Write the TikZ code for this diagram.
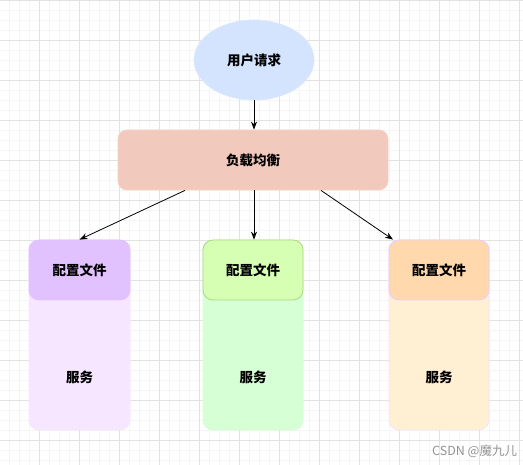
\documentclass[tikz,border=0pt]{standalone}
\usepackage{fontspec}
\setmainfont{Noto Sans CJK SC}
\usetikzlibrary{arrows.meta,shapes.geometric}
\definecolor{gridminor}{HTML}{F5F5F5}
\definecolor{gridmajor}{HTML}{E2E2E2}
\definecolor{ellfill}{HTML}{D4E4FF}
\definecolor{elldraw}{HTML}{DCE9FC}
\definecolor{lbfill}{HTML}{F2C9BD}
\definecolor{lbdraw}{HTML}{F6D3C9}
\definecolor{hAfill}{HTML}{E1C2FF}
\definecolor{bAfill}{HTML}{F7E6FF}
\definecolor{hBfill}{HTML}{D7FFB3}
\definecolor{hBdraw}{HTML}{A9D883}
\definecolor{bBfill}{HTML}{D6FFD6}
\definecolor{hCfill}{HTML}{FFD9AD}
\definecolor{hCdraw}{HTML}{E8CBFF}
\definecolor{bCfill}{HTML}{FFF0D4}
\definecolor{bCdraw}{HTML}{F7E2FF}
\begin{document}
\begin{tikzpicture}[x=1pt,y=-1pt,
  lbl/.style={font=\bfseries\fontsize{13.5}{15}\selectfont,text=black},
  body/.style={rounded corners=10pt,line width=0.8pt},
  head/.style={rounded corners=10pt,line width=0.8pt},
  conn/.style={line width=0.8pt,-{Stealth[length=8pt,width=6pt]}}]
\useasboundingbox (0,0) rectangle (523,465);
\fill[white] (0,0) rectangle (523,465);
% grid
\foreach \i in {0,...,52} {\draw[gridminor,line width=0.6pt] (\i*10-0.5,0) -- (\i*10-0.5,465);}
\foreach \j in {0,...,46} {\draw[gridminor,line width=0.6pt] (0,\j*10+0.5) -- (523,\j*10+0.5);}
\foreach \i in {0,...,13} {\draw[gridmajor,line width=0.8pt] (\i*40-0.5,0) -- (\i*40-0.5,465);}
\foreach \j in {0,...,11} {\draw[gridmajor,line width=0.8pt] (0,\j*40+0.5) -- (523,\j*40+0.5);}
% top ellipse
\node[ellipse,fill=ellfill,draw=elldraw,line width=0.8pt,minimum width=120pt,minimum height=80pt,inner sep=0pt,lbl] (req) at (254,60) {用户请求};
% load balancer
\node[rectangle,rounded corners=9pt,fill=lbfill,draw=lbdraw,line width=0.8pt,minimum width=270pt,minimum height=60pt,inner sep=0pt,lbl] (lb) at (253,160) {负载均衡};
% columns
\draw[body,fill=bAfill,draw=bAfill] (29,240) rectangle (130,430);
\node[lbl] (sA) at (79.5,377) {服务};
\node[rectangle,head,fill=hAfill,draw=hAfill,minimum width=101pt,minimum height=60pt,inner sep=0pt,lbl] (hA) at (79.5,270) {配置文件};

\draw[body,fill=bBfill,draw=bBfill] (203,240) rectangle (303,430);
\node[lbl] (sB) at (253,377) {服务};
\node[rectangle,head,fill=hBfill,draw=hBdraw,minimum width=100pt,minimum height=60pt,inner sep=0pt,lbl] (hB) at (253,270) {配置文件};

\draw[body,fill=bCfill,draw=bCdraw] (389,240) rectangle (489,430);
\node[lbl] (sC) at (439,377) {服务};
\node[rectangle,head,fill=hCfill,draw=hCdraw,minimum width=100pt,minimum height=60pt,inner sep=0pt,lbl] (hC) at (439,270) {配置文件};
% connectors
\draw[conn] (req.south) -- (lb.north -| req.south);
\coordinate (o1) at ([xshift=-68pt]lb.south);
\coordinate (o2) at ([xshift=1pt]lb.south);
\coordinate (o3) at ([xshift=68pt]lb.south);
\draw[conn] (o1) -- (hA.north);
\draw[conn] (o2) -- (o2 |- hB.north);
\draw[conn] (o3) -- ([xshift=-46pt]hC.north);
% watermark
\node[anchor=west,text=black!42,font=\fontsize{12.5}{14}\selectfont,inner sep=0pt] (wm) at (432,451) {CSDN @魔九儿};
\end{tikzpicture}
\end{document}
